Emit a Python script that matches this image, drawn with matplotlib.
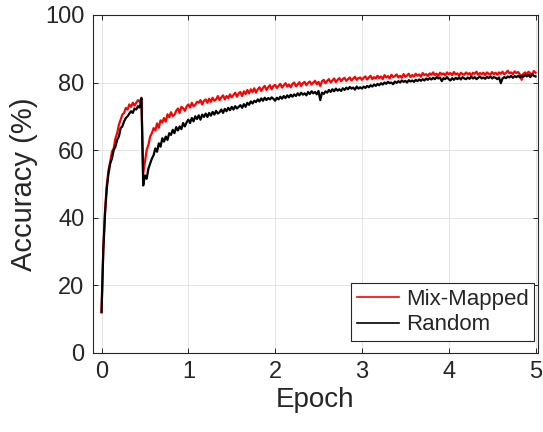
import numpy as np
import matplotlib
matplotlib.use('Agg')
from matplotlib import pyplot as plt

mix_mapped = [
    12.0, 30.5, 42.0, 49.5, 54.0, 56.5, 59.5, 60.5, 63.5, 65.0,
    67.5, 69.0, 70.5, 71.0, 72.5, 72.0, 73.5, 72.8, 74.0, 73.2,
    74.0, 74.8, 74.3, 75.5, 53.0, 56.5, 60.0, 61.5, 64.0, 65.0,
    66.5, 65.8, 67.9, 66.6, 68.8, 68.2, 69.5, 68.4, 70.6, 69.7,
    71.2, 70.1, 70.4, 71.6, 72.3, 71.0, 72.8, 72.4, 71.6, 72.9,
    73.5, 72.6, 74.0, 73.0, 73.4, 74.3, 74.0, 74.8, 73.5, 74.6,
    75.0, 74.0, 75.2, 74.3, 75.5, 74.6, 75.0, 76.0, 74.8, 75.6,
    76.2, 75.0, 76.0, 75.4, 76.5, 75.6, 76.3, 77.0, 75.8, 76.8,
    77.2, 76.0, 77.4, 76.6, 77.8, 76.8, 78.0, 77.2, 78.3, 77.0,
    78.0, 78.6, 77.5, 78.4, 79.0, 77.8, 78.6, 79.2, 78.0, 79.0,
    79.3, 78.4, 79.0, 79.6, 78.5, 79.2, 79.8, 78.8, 79.4, 78.6,
    79.6, 80.0, 78.9, 79.5, 80.1, 79.0, 79.8, 80.2, 79.2, 79.9,
    80.3, 79.4, 80.0, 80.5, 79.5, 80.2, 79.0, 80.4, 80.8, 79.8,
    80.5, 81.0, 80.0, 80.6, 81.2, 80.1, 80.8, 81.3, 80.4, 81.0,
    81.4, 80.5, 81.0, 81.5, 80.6, 81.2, 81.7, 80.8, 81.3, 81.5,
    80.8, 81.4, 81.8, 80.9, 81.5, 82.0, 81.0, 81.6, 81.2, 82.0,
    81.3, 81.8, 81.0, 82.2, 81.5, 81.9, 81.2, 82.3, 81.6, 81.9,
    82.4, 81.5, 82.0, 81.4, 82.5, 81.7, 82.1, 82.6, 81.6, 82.2,
    81.8, 82.6, 82.0, 82.4, 81.7, 82.8, 82.2, 82.5, 81.9, 82.7,
    82.3, 83.0, 82.2, 82.6, 82.0, 82.9, 82.4, 82.7, 82.1, 83.0,
    82.5, 82.8, 82.2, 83.1, 82.4, 82.7, 82.0, 82.9, 82.5, 82.3,
    83.0, 82.4, 82.8, 82.1, 82.9, 82.6, 83.2, 82.3, 82.8, 82.5,
    82.9, 82.2, 83.0, 82.6, 82.4, 83.1, 82.5, 82.9, 82.3, 83.0,
    82.6, 83.2, 82.4, 82.9, 83.5, 82.7, 83.0, 82.5, 83.3, 82.8,
    83.1, 82.4, 80.8, 82.6, 83.0, 82.5, 83.2, 82.7, 82.2, 83.4,
    82.9,
]

random_map = [
    12.0, 30.0, 41.0, 48.5, 53.0, 56.0, 57.5, 60.0, 61.0, 63.0,
    64.0, 66.5, 67.0, 68.5, 69.5, 70.0, 70.8, 71.5, 71.0, 72.3,
    72.0, 73.0, 72.6, 75.3, 49.5, 52.5, 51.5, 54.5, 56.0, 57.5,
    58.5, 60.5, 59.5, 62.0, 61.0, 63.5, 62.5, 64.0, 63.0, 65.0,
    64.5, 66.0, 65.0, 66.8, 65.8, 67.0, 66.2, 68.0, 67.0, 68.2,
    69.0, 68.0, 69.5, 68.5, 70.0, 69.2, 70.3, 69.0, 70.5, 69.8,
    70.8, 69.8, 71.0, 70.2, 71.3, 70.5, 71.6, 70.8, 71.2, 72.0,
    71.0, 72.2, 71.5, 72.5, 71.8, 72.8, 72.0, 73.0, 72.3, 72.8,
    73.3, 72.5, 73.6, 72.8, 74.0, 73.4, 74.4, 73.8, 74.6, 74.2,
    75.0, 74.4, 75.3, 74.6, 75.5, 74.8, 75.4, 75.0, 75.6, 75.2,
    74.6, 75.5, 75.0, 75.8, 75.2, 76.0, 75.4, 76.2, 75.6, 76.4,
    75.8, 76.5, 76.0, 76.8, 76.2, 77.0, 76.4, 76.8, 76.2, 77.2,
    76.6, 77.4, 76.8, 77.2, 76.5, 77.5, 74.8, 77.0, 76.6, 77.4,
    77.0, 77.8, 77.2, 78.0, 77.4, 78.2, 77.6, 78.0, 77.5, 78.3,
    77.8, 78.5, 78.0, 78.7, 78.2, 78.5, 77.9, 78.8, 78.2, 78.6,
    78.2, 78.8, 78.4, 79.0, 78.6, 79.2, 78.8, 79.4, 79.0, 79.6,
    79.2, 79.8, 79.4, 80.0, 79.6, 80.2, 79.8, 80.0, 79.5, 80.3,
    79.9, 80.4, 80.0, 80.6, 80.2, 80.5, 80.0, 80.7, 80.3, 80.6,
    80.2, 80.8, 80.4, 80.9, 80.5, 81.0, 80.6, 81.2, 80.8, 81.3,
    80.9, 81.4, 81.0, 81.6, 81.2, 81.5, 80.4, 81.3, 81.0, 81.6,
    81.0, 80.6, 81.3, 80.8, 81.4, 81.0, 81.5, 80.9, 81.6, 81.2,
    81.0, 81.5, 81.1, 81.7, 81.2, 81.6, 81.0, 81.4, 81.8, 81.2,
    81.5, 81.1, 81.7, 81.3, 81.8, 81.2, 81.6, 81.4, 81.0, 81.5,
    79.8, 81.2, 81.6, 81.3, 81.8, 81.5, 82.0, 81.4, 81.9, 81.6,
    82.0, 81.5, 82.1, 81.7, 82.2, 81.8, 82.3, 81.6, 82.4, 82.0,
    81.8,
]

labels = ['Mix-Mapped', 'Random']
xticks = [0, 1, 2, 3, 4, 5]
yticks = [0, 20, 40, 60, 80, 100]

dark = '#262626'
plt.rcParams['font.family'] = ['Liberation Sans', 'DejaVu Sans']
plt.rcParams['text.color'] = dark

epoch = np.linspace(0, 5, len(mix_mapped))

fig = plt.figure(figsize=(5.43, 4.32), dpi=100)
ax = fig.add_axes([0.171, 0.1836, 0.820, 0.7817])

ax.plot(epoch, mix_mapped, color='red', lw=1.6, label=labels[0])
ax.plot(epoch, random_map, color='black', lw=1.6, label=labels[1])

ax.set_xlim(-0.1, 5.03)
ax.set_ylim(0, 100)
ax.set_xticks(xticks)
ax.set_yticks(yticks)
ax.grid(True, color='#dfdfdf', lw=0.6)
ax.set_axisbelow(True)
ax.tick_params(direction='in', top=True, right=True, length=3.5, width=0.7,
               colors=dark, labelsize=17, pad=6)
for s in ax.spines.values():
    s.set_color(dark)
    s.set_linewidth(0.8)

ax.set_xlabel('Epoch', fontsize=20, color=dark, labelpad=3)
ax.set_ylabel('Accuracy (%)', fontsize=21, color=dark, labelpad=5)

leg = ax.legend(loc='lower right', bbox_to_anchor=(534 / 543, 1 - 341 / 432),
                bbox_transform=fig.transFigure, borderaxespad=0, fontsize=16,
                fancybox=False, framealpha=1, edgecolor=dark, handlelength=1.9,
                handletextpad=0.3, borderpad=0.25, labelspacing=0.2)
leg.get_frame().set_linewidth(0.8)
for line in leg.get_lines():
    line.set_linewidth(1.2)

fig.savefig('out.png', dpi=100)
